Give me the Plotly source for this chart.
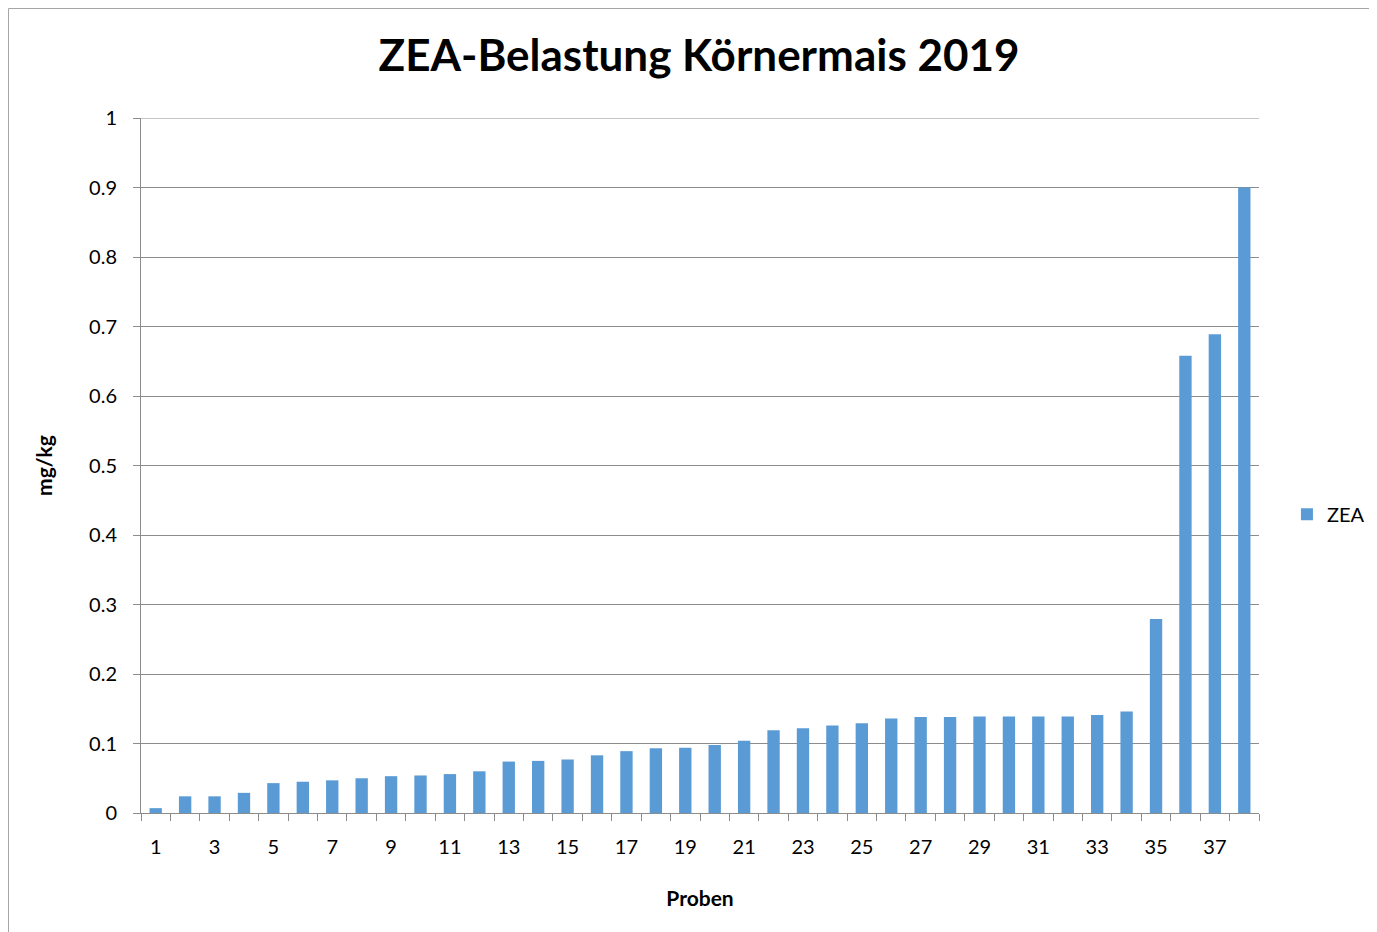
import plotly.graph_objects as go

# ZEA-Gehalt je Probe (mg/kg), aufsteigend sortiert
proben = list(range(1, 39))
zea = [0.007, 0.024, 0.024, 0.029, 0.043, 0.045, 0.047, 0.050, 0.053, 0.054,
       0.056, 0.060, 0.074, 0.075, 0.077, 0.083, 0.089, 0.093, 0.094, 0.098,
       0.104, 0.119, 0.122, 0.126, 0.129, 0.136, 0.138, 0.138, 0.139, 0.139,
       0.139, 0.139, 0.141, 0.146, 0.279, 0.658, 0.689, 0.900]

FONT = "Lato"
GRID = "#8c8c8c"

# the page puts the figure 8px in from the top-left corner
W, H = 1369, 924
L, T, PW, PH = 133, 110, 1118, 695

fig = go.Figure()
fig.add_trace(
    go.Bar(
        x=proben,
        y=zea,
        name="ZEA",
        marker={"color": "#5b9bd5", "line": {"width": 0}},
    )
)

# top gridline at 1 (plotly skips it at the range edge)
fig.add_shape(
    type="line", xref="paper", yref="y",
    x0=0, x1=1, y0=1, y1=1,
    line={"color": GRID, "width": 1},
)

# Rahmen um das Diagramm
fig.add_shape(
    type="rect", xref="paper", yref="paper",
    x0=(0.5 - L) / PW, x1=(W + 20 - L) / PW,
    y0=(T + PH - H - 20) / PH, y1=(T + PH - 0.5) / PH,
    line={"color": "#a6a6a6", "width": 1},
    fillcolor="rgba(0,0,0,0)", layer="below",
)

fig.update_layout(
    width=W,
    height=H,
    paper_bgcolor="white",
    plot_bgcolor="white",
    font={"family": FONT, "color": "#000000", "size": 20},
    title={
        "text": "<b>ZEA-Belastung Körnermais 2019</b>",
        "x": 691 / W,
        "xanchor": "center",
        "y": 1 - 48 / H,
        "yanchor": "middle",
        "font": {"size": 44, "family": FONT},
    },
    margin={"l": L, "r": W - L - PW, "t": T, "b": H - T - PH, "autoexpand": False},
    bargap=0.58,
    showlegend=True,
    legend={
        "x": 1.025, "xanchor": "left",
        "y": 0.43, "yanchor": "middle",
        "font": {"size": 20},
        "itemwidth": 30,
        "bgcolor": "rgba(0,0,0,0)",
    },
    xaxis={
        "range": [0.5, 38.5],
        "tickmode": "linear",
        "tick0": 1,
        "dtick": 2,
        "ticks": "outside",
        "ticklen": 0,
        "ticklabelstandoff": 16,
        "showgrid": False,
        "showline": True,
        "linecolor": GRID,
        "linewidth": 1,
        "minor": {
            "tickmode": "linear",
            "tick0": 0.5,
            "dtick": 1,
            "ticks": "outside",
            "ticklen": 7,
            "tickcolor": GRID,
            "showgrid": False,
        },
        "title": {"text": "<b>Proben</b>", "font": {"size": 21}, "standoff": 34},
        "zeroline": False,
    },
    yaxis={
        "range": [0, 1],
        "tickmode": "linear",
        "tick0": 0,
        "dtick": 0.1,
        "ticks": "outside",
        "ticklen": 7,
        "tickcolor": GRID,
        "ticklabelstandoff": 12,
        "showgrid": True,
        "gridcolor": GRID,
        "gridwidth": 1,
        "showline": True,
        "linecolor": GRID,
        "zeroline": False,
        "title": {"text": "<b>mg/kg</b>", "font": {"size": 21}, "standoff": 30},
    },
)

fig.write_html("out.html")
